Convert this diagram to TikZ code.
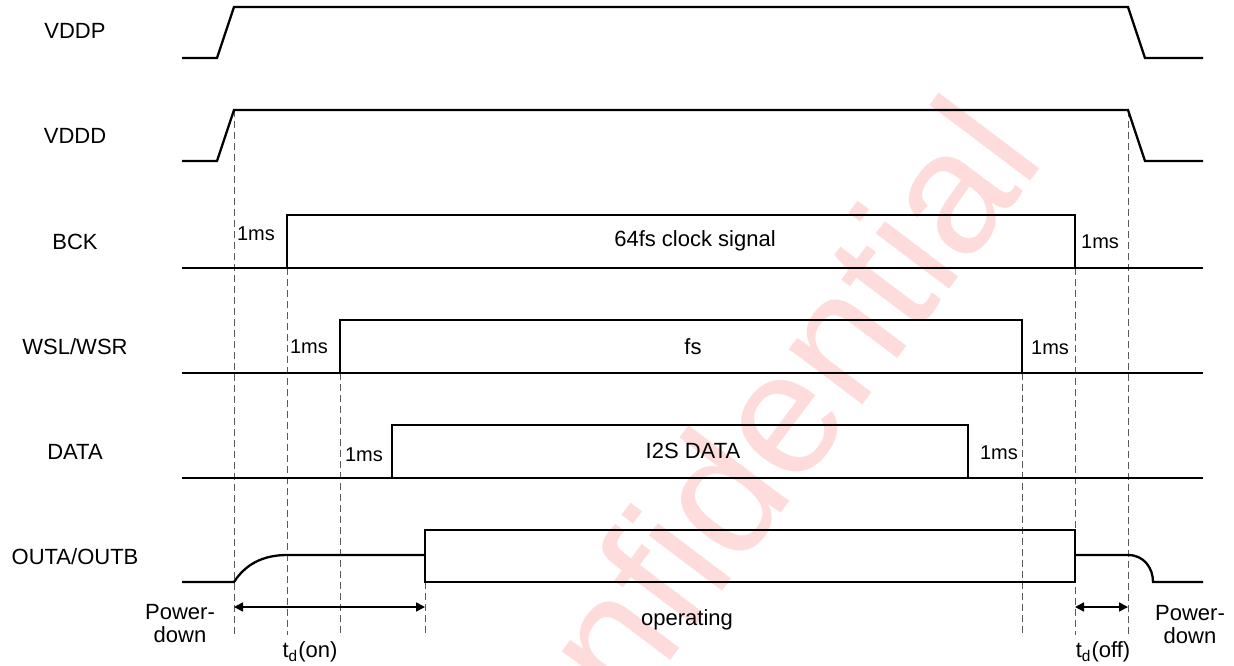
\documentclass[tikz,border=0pt]{standalone}
\usepackage{fontspec}
\setmainfont{Liberation Sans}
\usetikzlibrary{arrows.meta}
\definecolor{wmark}{RGB}{255,220,220}
\begin{document}
\begin{tikzpicture}[x=0.5pt,y=-0.5pt,
    sig/.style={line width=1.15pt},
    guide/.style={black!65,line width=0.5pt,dash pattern=on 3.5pt off 2pt},
    lbl/.style={font=\fontsize{11}{11.5}\selectfont},
    ms/.style={font=\fontsize{10}{12}\selectfont,inner sep=0pt},
    >={Triangle[length=4.5pt,width=4.5pt]}]
  \useasboundingbox (0,0) rectangle (1234,665);
  % watermark
  \begin{scope}
    \clip (0,0) rectangle (1234,665);
    \node[text=wmark,rotate=53,anchor=base west,inner sep=0pt,
      font=\fontsize{87}{87}\selectfont] (wm) at (494,894) {Confidential};
  \end{scope}
  % signal names
  \node[lbl] (vddp) at (75,31) {VDDP};
  \node[lbl] (vddd) at (75,136) {VDDD};
  \node[lbl] (bck) at (75,242) {BCK};
  \node[lbl] (ws) at (75,347) {WSL/WSR};
  \node[lbl] (data) at (75,452) {DATA};
  \node[lbl] (out) at (75,557) {OUTA/OUTB};
  % dashed guides
  \foreach \gx/\gy in {234/110,287/268,340/373,425/582,1022/373,1075/268,1128/110}
    \draw[guide] (\gx,\gy) -- (\gx,635);
  % waveforms
  \draw[sig] (182,58) -- (217,58) -- (234,7) -- (1128,7) -- (1145,58) -- (1203,58);
  \draw[sig] (182,161) -- (217,161) -- (234,110) -- (1128,110) -- (1145,161) -- (1203,161);
  \draw[sig] (182,268) -- (1203,268);
  \draw[sig] (287,268) rectangle (1075,215);
  \draw[sig] (182,373) -- (1203,373);
  \draw[sig] (340,373) rectangle (1022,320);
  \draw[sig] (182,478) -- (1203,478);
  \draw[sig] (392,478) rectangle (968,425);
  \draw[sig] (182,582) -- (234,582) .. controls (245,565) and (262,555) .. (287,555) -- (425,555);
  \draw[sig] (425,530) rectangle (1075,582);
  \draw[sig] (1075,555) -- (1128,555) .. controls (1144,555) and (1153,568) .. (1153,582) -- (1203,582);
  % texts in the pulses
  \node[lbl] (clk) at (695,241) {64fs clock signal};
  \node[lbl] (fs) at (693,347) {fs};
  \node[lbl] (i2s) at (693,451) {I2S DATA};
  \node[lbl] (op) at (687,620) {operating};
  % 1ms labels
  \node[ms] (msa) at (256,234) {1ms};
  \node[ms] (msb) at (1100,242) {1ms};
  \node[ms] (msc) at (309,347) {1ms};
  \node[ms] (msd) at (1050,348) {1ms};
  \node[ms] (mse) at (364,455) {1ms};
  \node[ms] (msf) at (999,453) {1ms};
  % delays
  \coordinate (on1) at (234,607);
  \coordinate (on2) at (425,607);
  \coordinate (off1) at (1075,607);
  \coordinate (off2) at (1128,607);
  \draw[<->,line width=0.8pt] (on1) -- (on2);
  \draw[<->,line width=0.8pt] (off1) -- (off2);
  \node[lbl] (tdon) at (310,652) {t\textsubscript{d}(on)};
  \node[lbl] (tdoff) at (1103,652) {t\textsubscript{d}(off)};
  \node[lbl,align=center] (pdl) at (180,624) {Power-\\down};
  \node[lbl,align=center] (pdr) at (1190,625) {Power-\\down};
\end{tikzpicture}
\end{document}
